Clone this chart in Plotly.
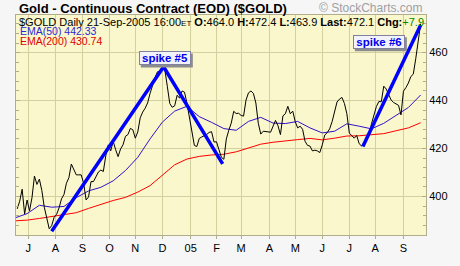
import pandas as pd
import plotly.graph_objects as go

# ---------------- data ----------------
price_end = "2005-09-21"
close = [
    394.8, 398, 403, 392.7, 398.5, 394, 399.5, 408.5, 405, 407.2,
    402.5, 395.5, 391, 386.5, 387.8, 391.3, 392.5, 395.2, 399, 400.8,
    405.5, 407.8, 413.5, 411.5, 409, 409, 409, 405.5, 398.5, 399.8,
    406.2, 406.2, 408, 410.2, 411, 410.4, 417, 421.5, 419, 423,
    419.5, 416.6, 419.8, 421.5, 425.1, 425.8, 428.4, 427.8, 424.3, 426.9,
    432.8, 435.2, 436.8, 439, 443, 446.8, 449.5, 452, 452.3, 454,
    452.9, 446, 438.8, 437.2, 437.8, 442.2, 441, 444, 443.5, 438.8,
    433, 427, 421.3, 420.8, 424.2, 424.8, 425.3, 425.8, 426.7, 427,
    422.7, 422.8, 419.5, 416.3, 415.5, 424, 427.6, 430.6, 435.5, 434.6,
    434.7, 433.8, 433.5, 440.2, 443.2, 444, 443, 439, 430.5, 426,
    427.2, 427, 426.8, 426.8, 429.3, 431.7, 429.5, 425.8, 433.6, 434.5,
    437.6, 434.5, 435.6, 431.2, 428.6, 429.3, 428, 423, 421.3, 421,
    419, 419.3, 419, 418.3, 421.5, 425.6, 426.6, 428.2, 431.2, 436,
    439.4, 440.6, 441.3, 438.8, 434.5, 426.4, 425.1, 424.3, 425.4, 422,
    421, 422.5, 425, 425.4, 430.3, 434.5, 437.5, 439.6, 439.5, 446,
    444.8, 442.5, 440.2, 439.2, 438.6, 438, 434, 443.9, 445.4, 447.3,
    450, 451, 457.5, 464, 472.1,
]
ema50 = [
    391, 392.8, 396.3, 395.5, 395.8, 399.5, 402.3, 403.8, 406.5, 410.8,
    416.3, 424, 431, 435.6, 437.6, 433.3, 430.9, 428.3, 427.6, 431.3,
    433, 430.6, 430.4, 431.3, 428.6, 426.5, 427.2, 430.3, 429.3, 428.2,
    430.5, 433.8, 437.1, 442.33,
]
ema200 = [
    389.8, 390.1, 390.8, 391.6, 392.1, 393.2, 395.0, 396.8, 398.3, 399.6,
    401.8, 404.5, 408.7, 413.2, 415.6, 416.7, 417.3, 417.6, 418.6, 420.2,
    421.8, 422.6, 423.3, 423.7, 424.2, 423.6, 424.3, 425.2, 425.3, 425.8,
    426.2, 427.4, 428.6, 430.74,
]
spike5_dates = ["2004-07-28", "2004-12-02", "2005-02-08"]
spike5_vals = [385.5, 454.1, 413.6]
spike6_dates = ["2005-07-18", "2005-09-21"]
spike6_vals = [420.8, 471.5]
spike_labels = ["spike #5", "spike #6"]
spike_label_dates = ["2004-12-03", "2005-08-04"]
spike_label_vals = [457.6, 464.3]

month_ticks = ["2004-07-01", "2004-08-02", "2004-09-01", "2004-10-01", "2004-11-01",
               "2004-12-01", "2005-01-03", "2005-02-01", "2005-03-01", "2005-04-01",
               "2005-05-02", "2005-06-01", "2005-07-01", "2005-08-01", "2005-09-01"]
month_labels = ["J", "A", "S", "O", "N", "D", "05", "F", "M", "A", "M", "J", "J", "A", "S"]
y_ticks = [400, 420, 440, 460]

price_dates = pd.bdate_range(end=price_end, periods=len(close), freq="2B")
ema_dates = pd.bdate_range(end=price_end, periods=len(ema50), freq="10B")

# ---------------- figure ----------------
FONT = "Liberation Sans, Arial, sans-serif"
fig = go.Figure()
fig.add_trace(go.Scatter(x=ema_dates, y=ema200, mode="lines",
                         line=dict(color="#ff0000", width=1)))
fig.add_trace(go.Scatter(x=ema_dates, y=ema50, mode="lines",
                         line=dict(color="#3311cc", width=1)))
fig.add_trace(go.Scatter(x=price_dates, y=close, mode="lines",
                         line=dict(color="#000000", width=1)))
fig.add_trace(go.Scatter(x=spike5_dates, y=spike5_vals, mode="lines",
                         line=dict(color="#0000ff", width=3.5)))
fig.add_trace(go.Scatter(x=spike6_dates, y=spike6_vals, mode="lines",
                         line=dict(color="#0000ff", width=3.5)))

grid = "#d3cf9f"
frame = "#b0ad8a"
fig.update_layout(
    width=460, height=266,
    margin=dict(l=16, r=32, t=15, b=17),
    paper_bgcolor="#f6f6f6", plot_bgcolor="#f9f7cb",
    showlegend=False,
    font=dict(family=FONT, size=11, color="#000"),
    xaxis=dict(type="date", range=["2004-06-17", "2005-09-27 08:00"],
               rangebreaks=[dict(bounds=["sat", "mon"])],
               tickvals=month_ticks, ticktext=month_labels,
               ticks="outside", ticklen=3, tickcolor=frame,
               showgrid=True, gridcolor=grid, gridwidth=1,
               showline=True, linecolor=frame, mirror=True,
               tickfont=dict(size=11, color="#000"), zeroline=False),
    yaxis=dict(side="right", range=[383.9, 475.7], tickvals=y_ticks,
               ticks="inside", ticklen=4, tickcolor=frame,
               showgrid=True, gridcolor=grid, gridwidth=1,
               showline=True, linecolor=frame, mirror="ticks",
               minor=dict(dtick=4, tick0=400, ticks="inside", ticklen=3,
                          tickcolor=frame, showgrid=False),
               tickfont=dict(size=11, color="#000"), zeroline=False),
)

ann = []
ann.append(dict(xref="paper", yref="paper", x=0.002, y=1.03, xanchor="left", yanchor="middle",
                text="<b>Gold - Continuous Contract (EOD) ($GOLD)</b>", showarrow=False,
                font=dict(family=FONT, size=13, color="#000")))
ann.append(dict(xref="paper", yref="paper", x=0.998, y=1.03, xanchor="right", yanchor="middle",
                text="© StockCharts.com", showarrow=False,
                font=dict(family=FONT, size=12, color="#a0a0a0")))
info = ("$GOLD Daily 21-Sep-2005 16:00<span style='font-size:8px'>ET</span> "
        "<b>O:</b>464.0 <b>H:</b>472.4 <b>L:</b>463.9 <b>Last:</b>472.1 "
        "<b>Chg:</b><span style='color:#008800'>+7.9</span>")
ann.append(dict(xref="paper", yref="paper", x=0.002, y=0.970, xanchor="left", yanchor="middle",
                text=info, showarrow=False, font=dict(family=FONT, size=11, color="#000")))
ann.append(dict(xref="paper", yref="paper", x=0.004, y=0.927, xanchor="left", yanchor="middle",
                text="EMA(50) 442.33", showarrow=False, font=dict(family=FONT, size=10.5, color="#2a2ad8")))
ann.append(dict(xref="paper", yref="paper", x=0.004, y=0.884, xanchor="left", yanchor="middle",
                text="EMA(200) 430.74", showarrow=False, font=dict(family=FONT, size=10.5, color="#e00000")))

shapes = []
for lbl, xd, yv in zip(spike_labels, spike_label_dates, spike_label_vals):
    # drop shadow of the label box
    shapes.append(dict(type="rect", xref="x", yref="y", xsizemode="pixel", ysizemode="pixel",
                       xanchor=xd, yanchor=yv, x0=-24, x1=28, y0=-9, y1=5,
                       fillcolor="#8c8c8c", line=dict(width=0), layer="above"))
    ann.append(dict(x=xd, y=yv, xref="x", yref="y", text="<b>%s</b>" % lbl, showarrow=False,
                    width=50, height=12, borderpad=0,
                    bgcolor="#f2f2fa", bordercolor="#8080a0", borderwidth=1,
                    font=dict(family=FONT, size=11.5, color="#0000ee")))
fig.update_layout(annotations=ann, shapes=shapes)

fig.write_html("out.html")
